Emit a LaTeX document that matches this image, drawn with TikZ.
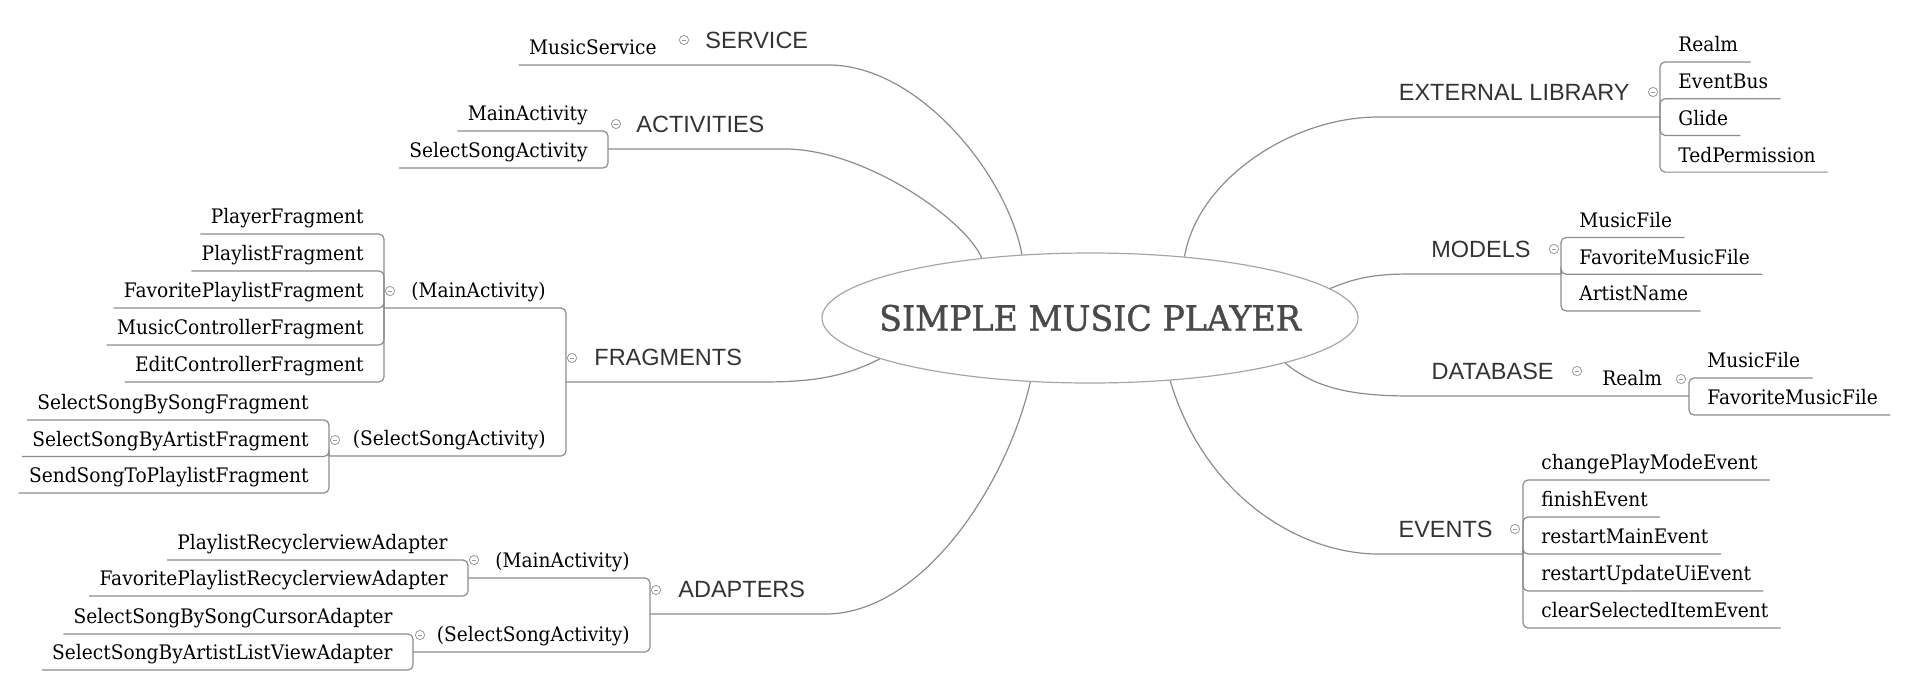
\documentclass[tikz,border=0pt]{standalone}
\usepackage{fontspec}
\setmainfont{DejaVu Serif}[FakeStretch=0.93]
\newfontfamily\titlefont{DejaVu Serif}[FakeStretch=0.95, FakeBold=1.3]
\newfontfamily\catfont{Liberation Sans}
\usetikzlibrary{shapes.geometric,calc}
\definecolor{linegray}{HTML}{8C8C8C}
\definecolor{titlegray}{HTML}{4A4A4A}
\begin{document}
\begin{tikzpicture}[x=0.5pt,y=-0.5pt,
		every node/.style={font=\fontsize{10pt}{12pt}\selectfont, text=black},
		branch/.style={draw=linegray, line width=0.6pt},
		bracket/.style={branch, rounded corners=2.5pt},
		rleaf/.style={anchor=south west, inner xsep=6pt, inner ysep=2.35pt, text height=9.8pt, text depth=2.5pt},
		lleaf/.style={rleaf, anchor=south east, inner xsep=5pt},
		lcat/.style={anchor=south west, inner xsep=10pt, inner ysep=5.3pt, text height=11.5pt, text depth=3pt,
				font=\catfont\fontsize{11.75pt}{14pt}\selectfont, text=black!80},
		rcat/.style={lcat, anchor=south east},
		collapse/.style={circle, draw=gray!80, fill=white, line width=0.4pt, minimum size=4.6pt, inner sep=0pt,
				path picture={\draw[gray!80, line width=0.4pt] ([xshift=-1.2pt]path picture bounding box.center) -- ([xshift=1.2pt]path picture bounding box.center);}},
	]
	\useasboundingbox (0,0) rectangle (1908,686);
	\node[ellipse, draw=gray!70, line width=0.6pt, minimum width=268pt, minimum height=65pt, inner sep=0pt, text=titlegray,
		font=\titlefont\fontsize{17.5pt}{20pt}\selectfont] (root) at (1090,318) {\makebox[0pt]{SIMPLE MUSIC PLAYER}};

	% external library
	\foreach \n/\lbl [count=\i from 0] in {libRealm/Realm, libEventBus/EventBus, libGlide/Glide, libTed/TedPermission}
	\node[rleaf] (\n) at (1666,62+36.7*\i) {\lbl};
	\coordinate (libB) at (1660,117);
	\node[rcat] (lib) at (1650,117) {EXTERNAL LIBRARY};
	\node[collapse] (libC) at (1653,92) {};
	\foreach \n in {libRealm, libEventBus, libGlide, libTed}
	\draw[bracket] (libB) |- (\n.south east);
	\draw[branch] (libB) -- (lib.south west) .. controls +(-87,0) and +(13,-77) .. (root.33);

	% models
	\foreach \n/\lbl [count=\i from 0] in {modMusicFile/MusicFile, modFavorite/FavoriteMusicFile, modArtist/ArtistName}
	\node[rleaf] (\n) at (1567,237.5+36.7*\i) {\lbl};
	\coordinate (modB) at (1561,274);
	\node[rcat] (mod) at (1551,274) {MODELS};
	\node[collapse] (modC) at (1554,249) {};
	\foreach \n in {modMusicFile, modFavorite, modArtist}
	\draw[bracket] (modB) |- (\n.south east);
	\draw[branch] (modB) -- (mod.south west) .. controls +(-40,0) and +(25,-10) .. (root.7);

	% database
	\node[rcat] (db) at (1574,396) {DATABASE};
	\node[collapse] (dbC) at (1577,371) {};
	\node[rleaf] (dbRealm) at (1590,396) {Realm};
	\node[collapse] (dbRealmC) at (1681,379) {};
	\foreach \n/\lbl [count=\i from 0] in {dbMusicFile/MusicFile, dbFavorite/FavoriteMusicFile}
	\node[rleaf] (\n) at (1695,378+37*\i) {\lbl};
	\coordinate (dbB) at (1689,396);
	\foreach \n in {dbMusicFile, dbFavorite}
	\draw[bracket] (dbB) |- (\n.south east);
	\draw[branch] (dbB) -- (db.south west) .. controls +(-60,0) and +(30,25) .. (root.347);

	% events
	\foreach \n/\lbl [count=\i from 0] in {evChange/changePlayModeEvent, evFinish/finishEvent, evMain/restartMainEvent, evUi/restartUpdateUiEvent, evClear/clearSelectedItemEvent}
	\node[rleaf] (\n) at (1529,480+37*\i) {\lbl};
	\coordinate (evB) at (1523,554);
	\node[rcat] (ev) at (1513,554) {EVENTS};
	\node[collapse] (evC) at (1515,529) {};
	\foreach \n in {evChange, evFinish, evMain, evUi, evClear}
	\draw[bracket] (evB) |- (\n.south east);
	\draw[branch] (evB) -- (ev.south west) .. controls +(-77,0) and +(35,117) .. (root.322);

	% service
	\node[lleaf] (svcMusic) at (667,65) {MusicService};
	\node[lcat] (svc) at (685,65) {SERVICE};
	\node[collapse] (svcC) at (684,40) {};
	\draw[branch] (svcMusic.south west) -- (svc.south east) .. controls +(90,0) and +(-15,-80) .. (root.137);

	% activities
	\foreach \n/\lbl [count=\i from 0] in {actMain/MainActivity, actSelect/SelectSongActivity}
	\node[lleaf] (\n) at (598,131+37*\i) {\lbl};
	\coordinate (actB) at (608,149);
	\node[lcat] (act) at (616,149) {ACTIVITIES};
	\node[collapse] (actC) at (616,124) {};
	\foreach \n in {actMain, actSelect}
	\draw[bracket] (actB) |- (\n.south west);
	\draw[branch] (actB) -- (act.south east) .. controls +(80,0) and +(-16,-38) .. (root.151);

	% fragments
	\foreach \n/\lbl [count=\i from 0] in {fragPlayer/PlayerFragment, fragPlaylist/PlaylistFragment, fragFavorite/FavoritePlaylistFragment, fragMusicCtrl/MusicControllerFragment, fragEditCtrl/EditControllerFragment}
	\node[lleaf] (\n) at (374,234+37*\i) {\lbl};
	\coordinate (fragMainB) at (384,308);
	\node[lleaf] (fragMain) at (556,308) {(MainActivity)};
	\node[collapse] (fragMainC) at (390,291) {};
	\foreach \n/\lbl [count=\i from 0] in {fragBySong/SelectSongBySongFragment, fragByArtist/SelectSongByArtistFragment, fragToPlaylist/SendSongToPlaylistFragment}
	\node[lleaf] (\n) at (319,420+36.5*\i) {\lbl};
	\coordinate (fragSelB) at (329,456);
	\node[lleaf] (fragSel) at (556,456) {(SelectSongActivity)};
	\node[collapse] (fragSelC) at (335,440) {};
	\coordinate (fragB) at (566,382);
	\node[lcat] (frag) at (574,382) {FRAGMENTS};
	\node[collapse] (fragC) at (572,358) {};
	\foreach \n in {fragPlayer, fragPlaylist, fragFavorite, fragMusicCtrl, fragEditCtrl}
	\draw[bracket] (fragMainB) |- (\n.south west);
	\foreach \n in {fragBySong, fragByArtist, fragToPlaylist}
	\draw[bracket] (fragSelB) |- (\n.south west);
	\foreach \n in {fragMainB, fragSelB}
	\draw[bracket] (fragB) |- (\n);
	\draw[branch] (fragB) -- (frag.south east) .. controls +(50,0) and +(-35,18) .. (root.191);

	% adapters
	\foreach \n/\lbl [count=\i from 0] in {adpPlaylist/PlaylistRecyclerviewAdapter, adpFavorite/FavoritePlaylistRecyclerviewAdapter}
	\node[lleaf] (\n) at (458,560+36*\i) {\lbl};
	\coordinate (adpMainB) at (468,578);
	\node[lleaf] (adpMain) at (640,578) {(MainActivity)};
	\node[collapse] (adpMainC) at (474,560) {};
	\foreach \n/\lbl [count=\i from 0] in {adpBySong/SelectSongBySongCursorAdapter, adpByArtist/SelectSongByArtistListViewAdapter}
	\node[lleaf] (\n) at (403,634+36*\i) {\lbl};
	\coordinate (adpSelB) at (413,652);
	\node[lleaf] (adpSel) at (640,652) {(SelectSongActivity)};
	\node[collapse] (adpSelC) at (420,635) {};
	\coordinate (adpB) at (650,614);
	\node[lcat] (adp) at (658,614) {ADAPTERS};
	\node[collapse] (adpC) at (656,590) {};
	\foreach \n in {adpPlaylist, adpFavorite}
	\draw[bracket] (adpMainB) |- (\n.south west);
	\foreach \n in {adpBySong, adpByArtist}
	\draw[bracket] (adpSelB) |- (\n.south west);
	\foreach \n in {adpMainB, adpSelB}
	\draw[bracket] (adpB) |- (\n);
	\draw[branch] (adpB) -- (adp.south east) .. controls +(95,0) and +(-25,107) .. (root.227);
\end{tikzpicture}
\end{document}
